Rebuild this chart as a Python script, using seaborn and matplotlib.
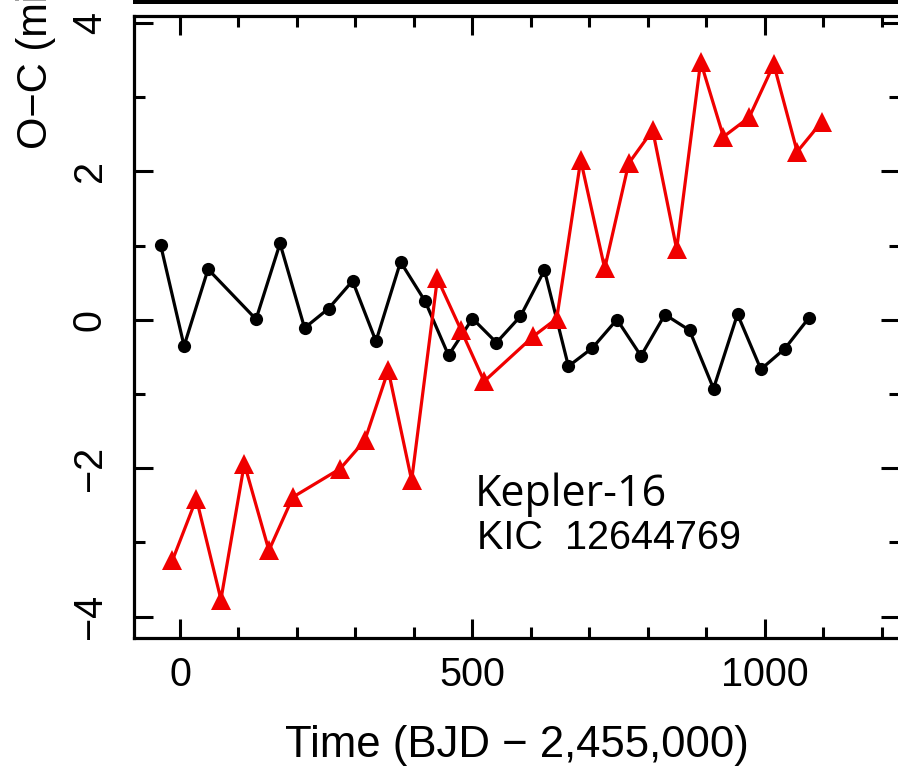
import matplotlib
matplotlib.use("Agg")
import matplotlib.pyplot as plt
import seaborn as sns
import pandas as pd
from matplotlib.ticker import MultipleLocator
from matplotlib.patches import Rectangle

# ---- data ----
primary_time = [-33, 7, 48, 130, 171, 213, 254, 295, 335, 377, 419, 459, 500, 541,
                582, 623, 664, 705, 747, 788, 829, 871, 912, 953, 993, 1034, 1075]
primary_oc = [1.005, -0.353, 0.681, 0.007, 1.028, -0.111, 0.151, 0.523, -0.290, 0.780,
              0.250, -0.479, 0.016, -0.308, 0.047, 0.668, -0.627, -0.380, 0.003, -0.488,
              0.070, -0.142, -0.928, 0.074, -0.668, -0.389, 0.024]

secondary_time = [-13, 28, 70, 110, 152, 193, 274, 316, 356, 396, 440, 480, 520, 604,
                  644, 685, 726, 767, 808, 849, 890, 929, 973, 1015, 1055, 1097]
secondary_oc = [-3.245, -2.412, -3.771, -1.940, -3.110, -2.391, -2.007, -1.626, -0.681,
                -2.165, 0.556, -0.132, -0.830, -0.223, 0.016, 2.152, 0.691, 2.107, 2.556,
                0.951, 3.478, 2.466, 2.728, 3.443, 2.264, 2.668]

x_ticks = [0, 500, 1000]
y_ticks = [-4, -2, 0, 2, 4]
x_label = "Time (BJD \u2212 2,455,000)"
y_label = "O\u2212C (min)"
annot1 = "Kepler-16"
annot2 = "KIC  12644769"

sns.set_style("ticks")
plt.rcParams["font.family"] = ["Liberation Sans", "DejaVu Sans"]
plt.rcParams["text.color"] = "black"
plt.rcParams["xtick.color"] = "black"
plt.rcParams["ytick.color"] = "black"
plt.rcParams["axes.labelcolor"] = "black"

W, H = 898, 775
fig = plt.figure(figsize=(W / 100, H / 100), dpi=100)
left, right, top, bottom = 134, 900, 16, 637.5
ax = fig.add_axes([left / W, 1 - bottom / H, (right - left) / W, (bottom - top) / H])

df_p = pd.DataFrame({"t": primary_time, "oc": primary_oc})
df_s = pd.DataFrame({"t": secondary_time, "oc": secondary_oc})

sns.lineplot(data=df_p, x="t", y="oc", ax=ax, color="black", sort=False, estimator=None,
             marker="o", markersize=9.5, markeredgewidth=0, linewidth=2.3)
sns.lineplot(data=df_s, x="t", y="oc", ax=ax, color="#f00000", sort=False, estimator=None,
             marker="^", markersize=14, markeredgewidth=0, linewidth=2.3)

ax.set_xlim(-78.6, (right - 180) / 0.585)
ax.set_ylim(-4.283, 4.094)

ax.set_xticks(x_ticks)
ax.set_yticks(y_ticks)
ax.set_yticklabels([str(v).replace("-", "\u2212") for v in y_ticks])
ax.xaxis.set_minor_locator(MultipleLocator(100))
ax.yaxis.set_minor_locator(MultipleLocator(1))

for s in ax.spines.values():
    s.set_linewidth(2.3)
    s.set_color("black")

ax.tick_params(which="both", direction="in", top=True, right=True, width=2.2, color="black")
ax.tick_params(which="major", length=13.7)
ax.tick_params(which="minor", length=7.9)
ax.tick_params(axis="x", which="major", labelsize=28.5, pad=13, labelcolor="black")
ax.tick_params(axis="y", which="major", labelsize=28.5, pad=18, labelrotation=90,
               labelcolor="black")
for lab in ax.get_yticklabels():
    lab.set_verticalalignment("center")

ax.set_xlabel("")
ax.set_ylabel("")

fig.text(517 / W, 1 - 746 / H, x_label, fontsize=31.5, ha="center", va="center")
# y label is cropped at the top edge, as in the reference
fig.text(36 / W, 1 - 149 / H, y_label, fontsize=30, rotation=90,
         ha="left", va="center", rotation_mode="anchor")

fig.text(475 / W, 1 - 506 / H, annot1, fontsize=31, family=["Open Sans", "DejaVu Sans"],
         ha="left", va="baseline")
fig.text(477 / W, 1 - 549 / H, annot2, fontsize=28.5, ha="left", va="baseline")

# thick frame edge of the panel above (cropped)
fig.patches.append(Rectangle((133 / W, 1 - 3.5 / H), 1 - 133 / W, 3.5 / H,
                             transform=fig.transFigure, facecolor="black",
                             edgecolor="none", linewidth=0, zorder=5))

fig.savefig("out.png", dpi=100)
